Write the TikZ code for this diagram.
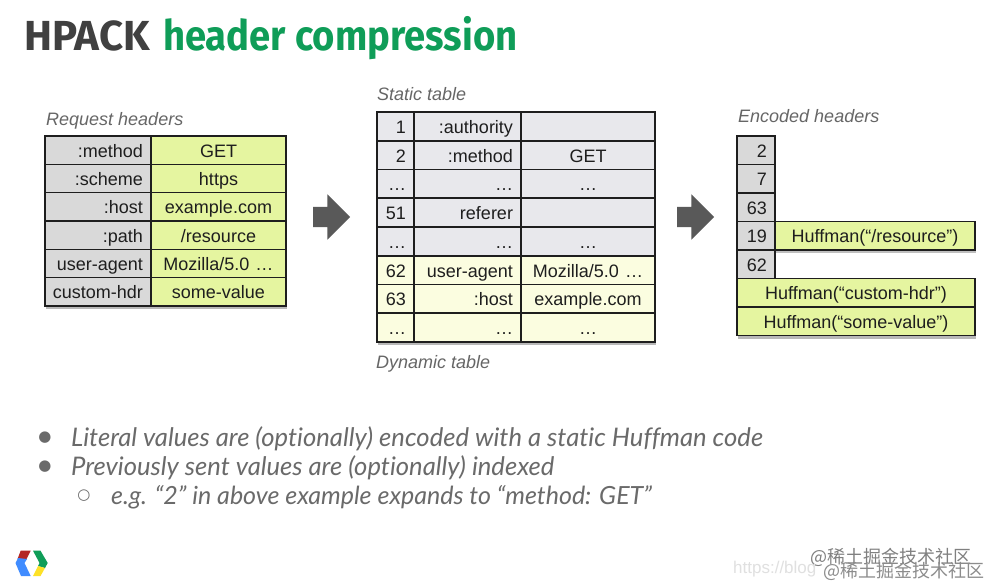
\documentclass[tikz,border=0pt]{standalone}
\usepackage{fontspec}
\setmainfont{Liberation Sans}
\newfontfamily\titlefont{Fira Sans}
\newfontfamily\titlenarrow[FakeStretch=0.91]{Fira Sans}
\newfontfamily\bulletfont[Ligatures=CommonOff]{Lato}
\newfontfamily\symfont{DejaVu Sans}
\newfontfamily\cjk{Noto Sans CJK SC}
\usetikzlibrary{positioning,shapes.arrows,shadows,fit,backgrounds}
\definecolor{inkgray}{HTML}{1E1E1E}
\definecolor{capgray}{HTML}{666666}
\definecolor{bodygray}{HTML}{6A6A6A}
\definecolor{cellgray}{HTML}{D9D9D9}
\definecolor{cellgreen}{HTML}{E5F5A0}
\definecolor{cellstatic}{HTML}{E8E8EC}
\definecolor{celldyn}{HTML}{FBFDE0}
\definecolor{gtitle}{HTML}{0F9D58}

\begin{document}
\begin{tikzpicture}[
  x=1pt, y=-1pt,
  font=\fontsize{18}{20}\selectfont,
  cell/.style={draw=inkgray, line width=1.6pt, inner xsep=0pt, inner ysep=0pt, outer sep=0pt, anchor=north west,
               text=inkgray, text height=15.5pt, text depth=1.5pt, minimum height=\ry pt},
  ccell/.style={cell, text width=#1, align=center},
  rcell/.style={cell, text width=#1, align=right, execute at end node={\hspace*{8pt}}},
  captxt/.style={font=\fontsize{18}{20}\selectfont\itshape, text=capgray, anchor=west, inner sep=0pt},
  bigarrow/.style={single arrow, fill=black!65, inner xsep=0pt, inner ysep=10pt, minimum width=45pt, minimum height=37pt,
                   single arrow head extend=12.5pt, single arrow tip angle=90},
  bodyline/.style={font=\fontsize{25.6}{28}\bulletfont\itshape\selectfont, text=bodygray, anchor=west, inner sep=0pt},
  glyph/.style={font=\symfont\fontsize{#1}{16}\selectfont, text=bodygray, inner sep=0pt},
  panel/.style={draw=none, fill=white, inner sep=0pt, drop shadow={shadow xshift=1pt, shadow yshift=-3pt, opacity=0.28, fill=black}},
  wmark/.style={font=\cjk\fontsize{18}{20}\selectfont, anchor=west, inner sep=0pt},
]
\useasboundingbox (0,0) rectangle (989,587);
\begin{scope}[on background layer]
  \fill[white] (0,0) rectangle (989,587);
\end{scope}

% ---- title ----
\node[anchor=base west, inner sep=0pt, text=black!75, font=\titlefont\bfseries\fontsize{42}{46}\selectfont] (title) at (24,50) {HPACK};
\node[anchor=base west, inner sep=0pt, text=gtitle, font=\titlenarrow\bfseries\fontsize{42}{46}\selectfont] (subtitle) at (163,50) {header compression};

% ---- request headers ----
\def\ry{28.33}
\node[captxt] (reqcap) at (46,121) {Request headers};
\node[rcell=106pt, fill=cellgray] (rq1a) at (45,136) {:method};
\node[ccell=135pt, fill=cellgreen] (rq1b) at (151,136) {GET};
\node[rcell=106pt, fill=cellgray] (rq2a) at (45,136+\ry) {:scheme};
\node[ccell=135pt, fill=cellgreen] (rq2b) at (151,136+\ry) {https};
\node[rcell=106pt, fill=cellgray] (rq3a) at (45,136+2*\ry) {:host};
\node[ccell=135pt, fill=cellgreen] (rq3b) at (151,136+2*\ry) {example.com};
\node[rcell=106pt, fill=cellgray] (rq4a) at (45,136+3*\ry) {:path};
\node[ccell=135pt, fill=cellgreen] (rq4b) at (151,136+3*\ry) {/resource};
\node[rcell=106pt, fill=cellgray] (rq5a) at (45,136+4*\ry) {user-agent};
\node[ccell=135pt, fill=cellgreen] (rq5b) at (151,136+4*\ry) {Mozilla/5.0 …};
\node[rcell=106pt, fill=cellgray] (rq6a) at (45,136+5*\ry) {custom-hdr};
\node[ccell=135pt, fill=cellgreen] (rq6b) at (151,136+5*\ry) {some-value};
\begin{scope}[on background layer]
  \node[panel, fit=(rq1a)(rq6b)] (reqpanel) {};
\end{scope}

\node[bigarrow] (arrow1) at (326.5,217) {};

% ---- static and dynamic table ----
\def\ry{28.75}
\node[captxt] (statcap) at (377,94) {Static table};
\node[rcell=37pt, fill=cellstatic] (st1a) at (377,112) {1};
\node[rcell=107pt, fill=cellstatic] (st1b) at (414,112) {:authority};
\node[ccell=134pt, fill=cellstatic] (st1c) at (521,112) {};
\node[rcell=37pt, fill=cellstatic] (st2a) at (377,112+\ry) {2};
\node[rcell=107pt, fill=cellstatic] (st2b) at (414,112+\ry) {:method};
\node[ccell=134pt, fill=cellstatic] (st2c) at (521,112+\ry) {GET};
\node[rcell=37pt, fill=cellstatic] (st3a) at (377,112+2*\ry) {…};
\node[rcell=107pt, fill=cellstatic] (st3b) at (414,112+2*\ry) {…};
\node[ccell=134pt, fill=cellstatic] (st3c) at (521,112+2*\ry) {…};
\node[rcell=37pt, fill=cellstatic] (st4a) at (377,112+3*\ry) {51};
\node[rcell=107pt, fill=cellstatic] (st4b) at (414,112+3*\ry) {referer};
\node[ccell=134pt, fill=cellstatic] (st4c) at (521,112+3*\ry) {};
\node[rcell=37pt, fill=cellstatic] (st5a) at (377,112+4*\ry) {…};
\node[rcell=107pt, fill=cellstatic] (st5b) at (414,112+4*\ry) {…};
\node[ccell=134pt, fill=cellstatic] (st5c) at (521,112+4*\ry) {…};
\node[rcell=37pt, fill=celldyn] (st6a) at (377,112+5*\ry) {62};
\node[rcell=107pt, fill=celldyn] (st6b) at (414,112+5*\ry) {user-agent};
\node[ccell=134pt, fill=celldyn] (st6c) at (521,112+5*\ry) {Mozilla/5.0 …};
\node[rcell=37pt, fill=celldyn] (st7a) at (377,112+6*\ry) {63};
\node[rcell=107pt, fill=celldyn] (st7b) at (414,112+6*\ry) {:host};
\node[ccell=134pt, fill=celldyn] (st7c) at (521,112+6*\ry) {example.com};
\node[rcell=37pt, fill=celldyn] (st8a) at (377,112+7*\ry) {…};
\node[rcell=107pt, fill=celldyn] (st8b) at (414,112+7*\ry) {…};
\node[ccell=134pt, fill=celldyn] (st8c) at (521,112+7*\ry) {…};
\begin{scope}[on background layer]
  \node[panel, fit=(st1a)(st8c)] (statpanel) {};
\end{scope}
\node[captxt] (dyncap) at (376,363.5) {Dynamic table};

\node[bigarrow] (arrow2) at (690.5,217) {};

% ---- encoded headers ----
\def\ry{28.5}
\node[captxt] (enccap) at (738,116) {Encoded headers};
\node[rcell=38pt, fill=cellgray] (en1) at (737,136) {2};
\node[rcell=38pt, fill=cellgray] (en2) at (737,136+\ry) {7};
\node[rcell=38pt, fill=cellgray] (en3) at (737,136+2*\ry) {63};
\node[rcell=38pt, fill=cellgray] (en4) at (737,136+3*\ry) {19};
\node[ccell=200pt, fill=cellgreen, drop shadow={shadow xshift=1pt, shadow yshift=-3pt, opacity=0.25, fill=black}] (en4b) at (775,136+3*\ry) {Huffman(“/resource”)};
\node[rcell=38pt, fill=cellgray] (en5) at (737,136+4*\ry) {62};
\node[ccell=238pt, fill=cellgreen] (en6) at (737,136+5*\ry) {Huffman(“custom-hdr”)};
\node[ccell=238pt, fill=cellgreen] (en7) at (737,136+6*\ry) {Huffman(“some-value”)};
\begin{scope}[on background layer]
  \node[panel, fit=(en6)(en7)] (encpanel) {};
\end{scope}

% ---- bullets ----
\node[glyph=15] (dot1) at (45,438) {●};
\node[bodyline] (line1) at (71,439) {Literal values are (optionally) encoded with a static Huffman code};
\node[glyph=15] (dot2) at (45,467) {●};
\node[bodyline] (line2) at (71,468) {Previously sent values are (optionally) indexed};
\node[glyph=15] (dot3) at (84,496) {○};
\node[bodyline, font=\fontsize{25}{28}\bulletfont\itshape\selectfont] (line3) at (111,497) {e.g. “2” in above example expands to “method: GET”};

% ---- logo ----
\fill[red!65!black!85!white] (20.7,550.7) -- (30.7,550.7) -- (26,560) -- (17.5,559) -- cycle;
\fill[blue!60!cyan!75!white] (15.5,563) -- (18,558) -- (27,559) -- (24.5,563) -- (30.7,576) -- (21,576) -- cycle;
\fill[gtitle] (33,550.7) -- (40.5,550.7) -- (47.7,563) -- (45,568) -- (38,566) -- (39.5,563) -- cycle;
\fill[yellow!80!orange!85!white] (33,576) -- (38,566) -- (45,568) -- (40.5,576) -- cycle;

% ---- watermarks ----
\node[wmark, text=black!50] (wm1) at (810,557) {@稀土掘金技术社区};
\node[wmark, text=black!12, font=\fontsize{17}{20}\selectfont] (wm3) at (733,569) {https://blog};
\node[wmark, text=black!45] (wm2) at (823,571) {@稀土掘金技术社区};
\end{tikzpicture}
\end{document}
